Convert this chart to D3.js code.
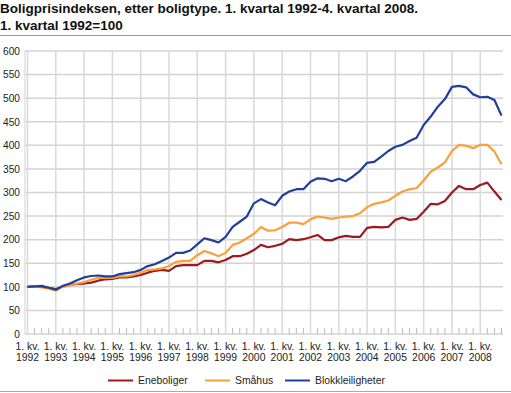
<!DOCTYPE html>
<html><head><meta charset="utf-8">
<script src="https://cdn.jsdelivr.net/npm/d3@7"></script>
<style>
body{margin:0;background:#fff;}
svg{display:block;font-family:Arial,"Liberation Sans",sans-serif;}
</style></head>
<body><svg id="c" width="511" height="393"></svg>
<script>
const years = d3.range(1992, 2009);
const quarters = years.flatMap(y => [1,2,3,4].map(q => q + ". kv. " + y));
const eneboliger = [100,101,102,98, 95,101,104,106, 107,109,113,116, 117,120,120,122,
  125,130,134,136, 134,144,146,146, 146,155,155,152, 157,165,165,170,
  178,189,184,187, 191,201,199,201, 205,210,199,199, 205,208,206,206,
  225,227,226,227, 242,247,242,244, 259,276,275,282, 300,314,307,307,
  316,321,302,284];
const smahus = [100,101,99,96, 92,100,103,107, 110,115,119,119, 119,122,122,125,
  130,136,137,139, 144,153,155,155, 167,176,171,165, 172,189,194,203,
  212,227,219,220, 227,236,236,233, 243,249,247,244, 247,249,250,256,
  269,276,279,283, 293,302,307,309, 326,344,353,364, 388,401,399,394,
  401,401,387,360];
const blokk = [100,101,101,98, 94,102,107,114, 120,123,124,122, 122,127,129,131,
  136,144,148,155, 162,172,172,177, 190,203,199,194, 206,227,238,249,
  277,286,279,273, 293,302,307,307, 323,330,329,324, 329,324,334,346,
  363,365,376,388, 397,401,409,416, 443,461,482,498, 524,526,523,508,
  502,503,496,463];
const yTicks = [0,50,100,150,200,250,300,350,400,450,500,550,600];
const seriesNames = ["Eneboliger","Småhus","Blokkleiligheter"];
const colors = ["#9b1b20","#f9a03a","#213f99"];
const titleLines = ["Boligprisindeksen, etter boligtype. 1. kvartal 1992-4. kvartal 2008.","1. kvartal 1992=100"];

const svg = d3.select("#c");
const pL = 25, pR = 503, pT = 51, pB = 334;
const x = d3.scaleLinear().domain([0, quarters.length - 1]).range([27.5, 501.5]);
const y = d3.scaleLinear().domain([0, 600]).range([pB, pT]);

// title
svg.selectAll("text.title").data(titleLines).join("text")
  .attr("class","title")
  .attr("x", 0).attr("y", (d,i) => 12.8 + i*17)
  .attr("font-size", 13.5).attr("font-weight", "bold").attr("fill", "#111")
  .text(d => d);
svg.append("line").attr("x1",0).attr("x2",511).attr("y1",35.5).attr("y2",35.5).attr("stroke","#999");
svg.append("line").attr("x1",0).attr("x2",511).attr("y1",391.5).attr("y2",391.5).attr("stroke","#aaa");

// grid
const g = svg.append("g");
g.selectAll("line.h").data(yTicks).join("line").attr("class","h")
  .attr("x1", pL).attr("x2", pR)
  .attr("y1", d => y(d)).attr("y2", d => y(d))
  .attr("stroke", "#d3d3d3").attr("stroke-width", 1.5);
const yearIdx = d3.range(0, quarters.length, 4);
g.selectAll("line.v").data(yearIdx).join("line").attr("class","v")
  .attr("x1", d => x(d)).attr("x2", d => x(d))
  .attr("y1", pT).attr("y2", pB)
  .attr("stroke", "#d9d9d9").attr("stroke-width", 1.5);
g.append("line").attr("x1", pL).attr("x2", pL).attr("y1", pT).attr("y2", pB)
  .attr("stroke", "#d3d3d3").attr("stroke-width", 1);

// quarter ticks
const qIdx = d3.range(quarters.length).filter(i => i % 4 !== 0);
g.selectAll("line.t").data(qIdx).join("line").attr("class","t")
  .attr("x1", d => x(d)).attr("x2", d => x(d))
  .attr("y1", pB - 6).attr("y2", pB)
  .attr("stroke", "#bbb").attr("stroke-width", 1);

// y axis labels
const yAxis = d3.axisLeft(y).tickValues(yTicks).tickSize(0).tickPadding(0);
const ya = svg.append("g").attr("transform", `translate(20,0)`).call(yAxis);
ya.select(".domain").remove();
ya.selectAll("text").attr("font-size", 10.2).attr("fill", "#222").attr("font-family", "Arial, Liberation Sans, sans-serif");

// x labels
const xl = svg.append("g").attr("font-size", 10.4).attr("fill", "#222").attr("text-anchor", "middle");
yearIdx.forEach(i => {
  const parts = quarters[i].split(" ");
  xl.append("text").attr("x", x(i)).attr("y", 350.2).text(parts[0] + " " + parts[1]);
  xl.append("text").attr("x", x(i)).attr("y", 360.5).text(parts[2]);
});

// lines
const line = d3.line().x((d,i) => x(i)).y(d => y(d));
[eneboliger, smahus, blokk].forEach((s, k) => {
  svg.append("path").datum(s).attr("d", line).attr("fill", "none")
    .attr("stroke", colors[k]).attr("stroke-width", 2.2).attr("stroke-linejoin", "round");
});

// legend
const legX = [108, 205, 285];
seriesNames.forEach((n, k) => {
  svg.append("line").attr("x1", legX[k]).attr("x2", legX[k] + 25)
    .attr("y1", 380.5).attr("y2", 380.5).attr("stroke", colors[k]).attr("stroke-width", 2);
  svg.append("text").attr("x", legX[k] + 30).attr("y", 384.3)
    .attr("font-size", 10.4).attr("fill", "#222").text(n);
});
</script></body></html>
